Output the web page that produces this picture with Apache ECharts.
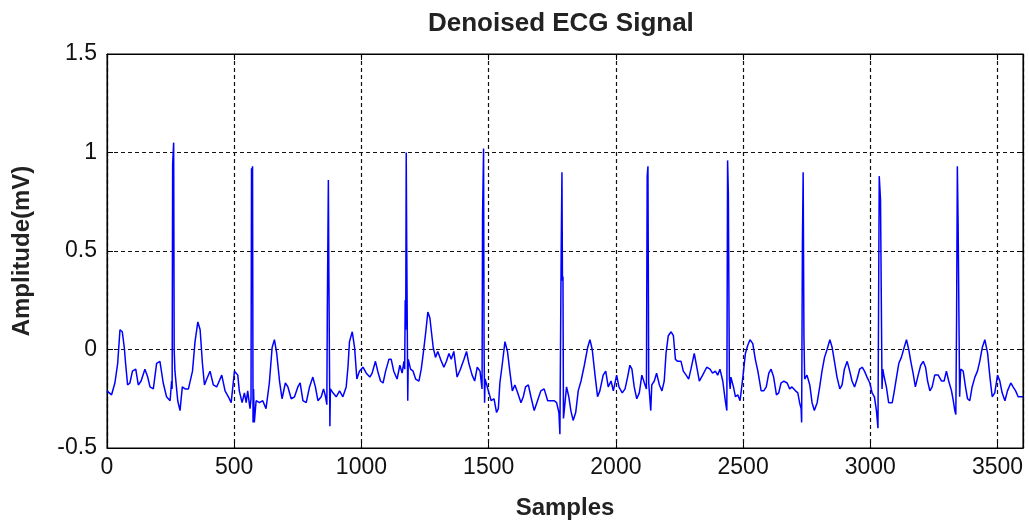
<!DOCTYPE html>
<html>
<head>
<meta charset="utf-8">
<title>Denoised ECG Signal</title>
<script src="https://cdn.jsdelivr.net/npm/echarts@6/dist/echarts.min.js"></script>
<style>
  html, body { margin: 0; padding: 0; background: #fff; }
  #chart { width: 1029px; height: 525px; }
</style>
</head>
<body>
<div id="chart"></div>
<script>
// sample index / amplitude (mV)
var samples = [
  0, 18, 31, 42, 51, 60, 68, 73, 81, 90, 100, 113, 123, 134, 149, 160, 169, 182, 195, 208, 221, 234, 248, 254,
  256, 258, 260, 262, 264, 267, 278, 287, 296, 307, 320, 336, 346, 357, 366, 375, 383, 392, 405, 418, 431, 451,
  464, 477, 488, 501, 514, 520, 531, 540, 547, 553, 562, 566, 568, 570, 572, 574, 576, 579, 586, 599, 612, 625,
  638, 649, 658, 667, 678, 688, 701, 711, 724, 737, 750, 759, 770, 783, 796, 809, 819, 829, 842, 851, 859, 864,
  866, 868, 870, 872, 874, 876, 878, 888, 901, 914, 927, 940, 947, 953, 964, 973, 982, 992, 1006, 1019, 1033,
  1042, 1055, 1064, 1075, 1085, 1095, 1108, 1117, 1127, 1140, 1151, 1160, 1167, 1170, 1172, 1174, 1176, 1178,
  1180, 1182, 1184, 1193, 1203, 1213, 1226, 1235, 1243, 1252, 1261, 1269, 1275, 1282, 1291, 1300, 1311, 1324,
  1334, 1344, 1353, 1363, 1376, 1389, 1403, 1413, 1422, 1435, 1445, 1455, 1466, 1474, 1476, 1478, 1480, 1482,
  1484, 1486, 1501, 1510, 1521, 1531, 1538, 1544, 1553, 1564, 1574, 1583, 1593, 1603, 1614, 1627, 1636, 1645,
  1656, 1666, 1679, 1692, 1705, 1718, 1732, 1745, 1758, 1767, 1776, 1780, 1783, 1785, 1788, 1790, 1792, 1794,
  1806, 1815, 1823, 1832, 1842, 1852, 1863, 1876, 1889, 1898, 1907, 1918, 1928, 1937, 1950, 1960, 1970, 1981,
  1990, 2003, 2012, 2025, 2036, 2046, 2055, 2063, 2072, 2082, 2092, 2102, 2112, 2120, 2123, 2126, 2129, 2133,
  2137, 2141, 2151, 2160, 2171, 2181, 2190, 2197, 2206, 2217, 2226, 2234, 2243, 2256, 2265, 2276, 2286, 2295,
  2308, 2318, 2328, 2341, 2357, 2370, 2380, 2391, 2400, 2409, 2420, 2430, 2436, 2439, 2442, 2444, 2446, 2449,
  2452, 2462, 2470, 2479, 2488, 2499, 2509, 2518, 2527, 2538, 2548, 2558, 2571, 2581, 2591, 2601, 2610, 2620,
  2631, 2640, 2649, 2660, 2673, 2683, 2692, 2706, 2715, 2722, 2728, 2730, 2733, 2736, 2739, 2742, 2751, 2762,
  2771, 2780, 2791, 2801, 2810, 2820, 2830, 2841, 2850, 2859, 2869, 2880, 2889, 2898, 2909, 2919, 2928, 2938,
  2948, 2958, 2968, 2977, 2987, 2998, 3007, 3016, 3024, 3030, 3035, 3040, 3043, 3046, 3049, 3053, 3063, 3072,
  3086, 3093, 3103, 3112, 3122, 3133, 3142, 3151, 3159, 3168, 3177, 3188, 3198, 3208, 3217, 3225, 3234, 3243,
  3253, 3267, 3280, 3290, 3299, 3308, 3319, 3326, 3332, 3336, 3339, 3342, 3345, 3348, 3351, 3355, 3365, 3374,
  3382, 3391, 3400, 3411, 3421, 3430, 3440, 3450, 3461, 3470, 3479, 3489, 3500, 3509, 3518, 3529, 3539, 3552,
  3561, 3571, 3581, 3594, 3600
];
var amplitude = [
  -0.21, -0.23, -0.17, -0.07, 0.10, 0.09, 0.01, -0.07, -0.18, -0.17, -0.11, -0.10, -0.18, -0.16, -0.10, -0.14, -0.19, -0.20, -0.07, -0.06, -0.17, -0.24, -0.26, -0.16,
  -0.20, 0.94, 0.95, 1.05, 0.00, -0.11, -0.26, -0.31, -0.19, -0.20, -0.20, -0.11, 0.04, 0.14, 0.10, -0.07, -0.18, -0.15, -0.11, -0.18, -0.19, -0.13,
  -0.21, -0.24, -0.27, -0.11, -0.13, -0.21, -0.27, -0.22, -0.27, -0.21, -0.30, -0.25, 0.92, 0.90, 0.93, -0.37, -0.20, -0.37, -0.26, -0.27, -0.26, -0.30,
  -0.17, 0.01, 0.05, -0.02, -0.16, -0.25, -0.17, -0.19, -0.25, -0.24, -0.19, -0.17, -0.26, -0.27, -0.19, -0.14, -0.19, -0.26, -0.24, -0.20, -0.24, -0.28,
  0.22, 0.22, 0.86, 0.38, 0.38, -0.39, -0.20, -0.22, -0.24, -0.21, -0.24, -0.19, -0.09, 0.04, 0.09, 0.01, -0.15, -0.11, -0.09, -0.12, -0.14,
  -0.12, -0.06, -0.11, -0.16, -0.17, -0.11, -0.05, -0.05, -0.11, -0.15, -0.08, -0.12, -0.06, -0.10, 0.25, 0.10, 1.00, 0.52,
  0.52, -0.26, -0.05, -0.10, -0.11, -0.15, -0.16, -0.10, -0.02, 0.08, 0.19, 0.16, 0.09, 0.01, -0.04, -0.01, -0.05, -0.09,
  -0.06, -0.02, -0.05, -0.01, -0.14, -0.10, -0.05, -0.01, -0.07, -0.13, -0.16, -0.09, -0.11, -0.20, 0.68, 0.68, 1.02, 0.00,
  -0.27, -0.15, -0.22, -0.26, -0.25, -0.32, -0.30, -0.17, -0.08, 0.04, -0.01, -0.11, -0.21, -0.18, -0.22, -0.27, -0.24, -0.19,
  -0.18, -0.24, -0.31, -0.26, -0.21, -0.20, -0.26, -0.26, -0.26, -0.27, -0.32, -0.43, -0.43, 0.50, 0.90, 0.35, 0.37, -0.35,
  -0.19, -0.24, -0.31, -0.36, -0.32, -0.21, -0.16, -0.08, 0.01, 0.05, 0.00, -0.13, -0.24, -0.21, -0.13, -0.11, -0.19, -0.16,
  -0.21, -0.13, -0.19, -0.22, -0.20, -0.14, -0.08, -0.10, -0.19, -0.25, -0.22, -0.13, -0.17, -0.20, 0.88, 0.93, -0.17, -0.18,
  -0.31, -0.18, -0.16, -0.12, -0.18, -0.21, -0.16, -0.02, 0.07, 0.09, 0.07, -0.05, -0.06, -0.06, -0.11, -0.13, -0.15, -0.10,
  -0.02, -0.09, -0.16, -0.13, -0.09, -0.10, -0.12, -0.11, -0.13, -0.10, -0.16, -0.26, -0.31, 0.96, 0.79, 0.79, -0.15, -0.20,
  -0.14, -0.19, -0.24, -0.23, -0.26, -0.14, -0.02, 0.02, 0.05, 0.03, -0.05, -0.11, -0.21, -0.21, -0.19, -0.12, -0.10, -0.14,
  -0.23, -0.22, -0.17, -0.16, -0.17, -0.20, -0.19, -0.21, -0.22, -0.27, -0.30, -0.37, 0.53, 0.90, 0.07, -0.15, -0.13, -0.18,
  -0.27, -0.31, -0.27, -0.19, -0.11, -0.04, 0.00, 0.05, 0.01, -0.06, -0.14, -0.20, -0.18, -0.10, -0.06, -0.11, -0.16, -0.19,
  -0.15, -0.10, -0.09, -0.11, -0.14, -0.17, -0.22, -0.24, -0.31, -0.40, 0.88, 0.76, 0.76, -0.20, -0.10, -0.13, -0.19, -0.27,
  -0.27, -0.22, -0.14, -0.07, -0.04, 0.01, 0.05, 0.00, -0.06, -0.12, -0.19, -0.13, -0.08, -0.06, -0.09, -0.16, -0.21, -0.19,
  -0.13, -0.13, -0.16, -0.16, -0.11, -0.16, -0.21, -0.26, -0.31, -0.33, 0.16, 0.93, 0.64, 0.64, -0.24, -0.10, -0.11, -0.19,
  -0.25, -0.26, -0.19, -0.14, -0.11, -0.06, 0.01, 0.05, -0.02, -0.14, -0.24, -0.22, -0.13, -0.16, -0.22, -0.26, -0.21, -0.17,
  -0.19, -0.21, -0.24, -0.24, -0.24
];
var xTicks = { min: 0, max: 3600, step: 500 };
var yTicks = { min: -0.5, max: 1.5, step: 0.5 };

var font = 'Arial, "Liberation Sans", sans-serif';
var ecg = [];
for (var i = 0; i < samples.length; i++) {
  ecg.push([samples[i], amplitude[i]]);
}

var chart = echarts.init(document.getElementById('chart'));

var tick = { inside: true, length: 6, lineStyle: { color: '#000', width: 1 } };
var dashed = { show: true, lineStyle: { color: '#111', type: [4, 3], width: 1.2 } };
var frame = { show: true, onZero: false, lineStyle: { color: '#000', width: 1.2 } };

var option = {
  animation: false,
  backgroundColor: '#fff',
  title: {
    text: 'Denoised ECG Signal',
    left: 428,
    top: 11,
    padding: 0,
    textStyle: { fontFamily: font, fontSize: 26, fontWeight: 'bold', color: '#222' }
  },
  grid: {
    left: 107, right: 6, top: 54, bottom: 71,
    show: true, borderColor: '#000', borderWidth: 1, backgroundColor: '#fff'
  },
  xAxis: [
    {
      type: 'value', min: xTicks.min, max: xTicks.max, interval: xTicks.step,
      name: 'Samples', nameLocation: 'middle', nameGap: 48,
      nameTextStyle: { fontFamily: font, fontSize: 24, fontWeight: 'bold', color: '#222' },
      axisLine: frame,
      axisTick: tick,
      axisLabel: {
        fontFamily: font, fontSize: 23, color: '#111', margin: 8, showMaxLabel: false,
        formatter: function (v) { return String(v); }
      },
      splitLine: dashed
    },
    {
      type: 'value', position: 'top', min: xTicks.min, max: xTicks.max, interval: xTicks.step,
      axisLine: frame,
      axisTick: tick, axisLabel: { show: false }, splitLine: { show: false }
    }
  ],
  yAxis: [
    {
      type: 'value', min: yTicks.min, max: yTicks.max, interval: yTicks.step,
      name: 'Amplitude(mV)', nameLocation: 'middle', nameGap: 73,
      nameTextStyle: { fontFamily: font, fontSize: 24, fontWeight: 'bold', color: '#222' },
      axisLine: frame,
      axisTick: tick,
      axisLabel: { fontFamily: font, fontSize: 23, color: '#111', margin: 10 },
      splitLine: dashed
    },
    {
      type: 'value', position: 'right', min: yTicks.min, max: yTicks.max, interval: yTicks.step,
      axisLine: frame,
      axisTick: tick, axisLabel: { show: false }, splitLine: { show: false }
    }
  ],
  series: [
    {
      name: 'ECG',
      type: 'line',
      xAxisIndex: 0,
      yAxisIndex: 0,
      data: ecg,
      showSymbol: false,
      symbol: 'none',
      sampling: null,
      lineStyle: { color: '#0000ff', width: 1.5 },
      z: 3
    }
  ]
};
chart.setOption(option);
</script>
</body>
</html>
